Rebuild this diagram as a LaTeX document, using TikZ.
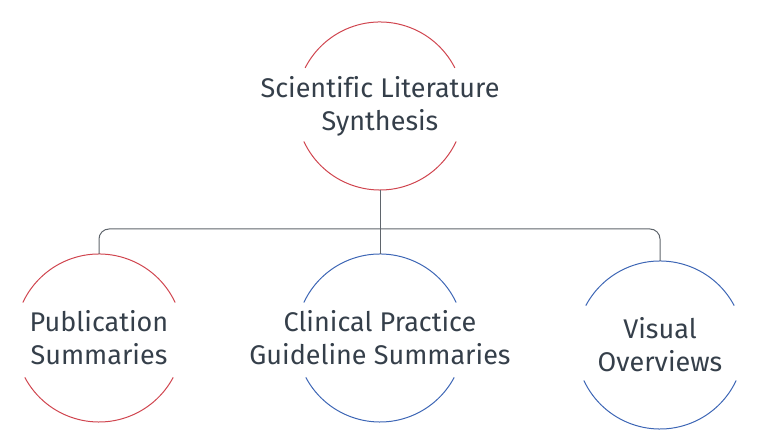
\documentclass[tikz,border=0pt]{standalone}
\usepackage{fontspec}
\setmainfont{Fira Sans}[Ligatures=NoCommon]
\begin{document}
\begin{tikzpicture}[x=1pt,y=1pt,
  lbl/.style={align=center,text=txtc,font=\fontsize{27}{33}\selectfont},
  ring/.style={circle,minimum size=168pt,inner sep=0pt},
  redarc/.style={draw=ringred,line width=1pt},
  bluearc/.style={draw=ringblue,line width=1pt},
  conn/.style={draw=connc,line width=1pt,rounded corners=10pt}]
\definecolor{txtc}{HTML}{353F4A}
\definecolor{ringred}{HTML}{D0454F}
\definecolor{ringblue}{HTML}{3D66B5}
\definecolor{connc}{HTML}{5F656C}
\useasboundingbox (0,0) rectangle (768,446);
\newcommand\brokenring[4]{%
  \draw[#2] ([shift={(#3:84)}]#1.center) arc[start angle=#3,end angle=180-#3,radius=84];
  \draw[#2] ([shift={(180+#4:84)}]#1.center) arc[start angle=180+#4,end angle=360-#4,radius=84];}
\node[ring] (top) at (380,340) {};
\node[ring] (pub) at (99,108) {};
\node[ring] (cpg) at (380,108) {};
\node[ring] (vis) at (660,101) {};
\brokenring{top}{redarc}{27}{25}
\brokenring{pub}{redarc}{25}{28}
\brokenring{cpg}{bluearc}{25}{28}
\brokenring{vis}{bluearc}{28}{25}
\node[lbl] (toptxt) at (top.center) {Scientific Literature\\Synthesis};
\node[lbl] (pubtxt) at (pub.center) {Publication\\Summaries};
\node[lbl] (cpgtxt) at (cpg.center) {Clinical Practice\\Guideline Summaries};
\node[lbl] (vistxt) at (vis.center) {Visual\\Overviews};
\coordinate (bar) at (380,217);
\draw[conn] (pub.north) -- (pub.north |- bar) -- (vis.north |- bar) -- (vis.north);
\draw[conn] (top.south) -- (cpg.north);
\end{tikzpicture}
\end{document}
